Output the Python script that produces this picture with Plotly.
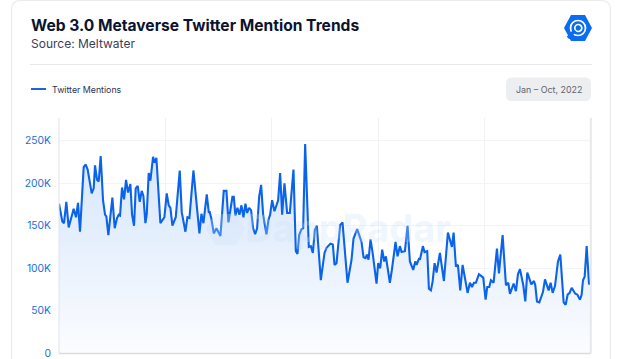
import plotly.graph_objects as go

W, H = 630, 359

period_position = [0,10,15,22,29,44,51,57,63,74,80,86,98,104,108,114,119,125,132,138,142,148,160,167,174,179,183,189,195,201,207,214,219,225,230,236,242,248,253,259,263,269,274,282,287,292,304,316,323,329,334,340,350,362,368,373,379,385,391,403,421,427,433,443,449,
452,457,464,472,484,494,502,508,520,524,529,535,541,547,553,559,564,570,576,582,588,594,600,606,612,622,628,633,639,646,657,663,669,676,684,692,703,710,715,720,727,732,738,749,755,761,767,773,785,796,802,814,821,826,832,843,850,865,877,883,894,907,913,919,923,928,934,940,952,957,963,969,975,980,992,998,1009,1015,1022,1027,1037,1045,1052,1062,1068,1072,1080,
1082,1091,1096,1104,1109,1115,1120,1126,1132,1142,1154,1166,1178,1183,1190,1196,1203,1210,1225,1232,1238,1244,1250,1259,1272,1279,1284,1290,1295,1303,1313,1319,1330,1340,1347,1352,1363,1370,1376,1382,1392,1398,1404,1416,1424,1428,1433,1440,1448,1451,1457,1468,1474,1480,1487,1496,1503,1513,1519,1525,1531,1537,1548,1554,1562,1567,1571,1576,1582,1589,1595]

twitter_mentions_k = [176,155,153,178,148,170,160,177,143,219,222,216,188,194,221,204,202,232,180,163,161,139,183,147,159,163,162,195,181,204,189,199,163,150,194,197,178,191,185,153,163,212,203,231,224,230,153,160,188,174,171,150,160,215,166,153,143,160,159,215,141,164,153,187,166,
166,158,141,147,138,191,191,154,184,184,162,171,163,174,160,176,165,171,168,147,140,147,184,198,163,140,157,163,180,167,180,212,163,200,165,165,216,120,117,139,146,147,246,125,126,118,145,150,86,118,124,129,128,104,106,151,154,83,110,135,146,131,113,112,116,110,134,119,82,106,100,122,108,114,83,98,131,114,126,119,120,150,108,98,108,104,112,
110,126,119,120,76,74,84,106,95,118,85,142,125,142,102,104,74,104,71,83,78,83,83,93,89,63,78,78,86,83,123,94,139,80,83,70,82,73,93,99,80,61,95,81,85,80,61,60,71,72,87,74,83,71,79,108,116,60,57,69,71,77,70,69,63,69,86,90,126,82,81]

y_tick_values = [0, 50, 100, 150, 200, 250]
y_tick_labels = ["0", "50K", "100K", "150K", "200K", "250K"]
x_tick_values = [0, 319, 638, 957, 1276, 1595]

title = "Web 3.0 Metaverse Twitter Mention Trends"
subtitle = "Source: Meltwater"
series_name = "Twitter Mentions"
date_label = "Jan – Oct, 2022"
watermark = "DappRadar"


def px(x):
    return x / W


def py(y):
    return 1 - y / H


fig = go.Figure()
fig.add_trace(go.Scatter(
    x=period_position, y=twitter_mentions_k, mode="lines", name=series_name,
    line=dict(color="#0a63ea", width=2.1), fill="tozeroy",
    fillgradient=dict(type="vertical", colorscale=[[0, "#fbfcff"], [0.6, "#e3eefc"], [1, "#d8e7fb"]]),
    hoverinfo="skip", showlegend=False,
))


def text(x, y, s, size, color, family="Inter", anchor="left", weight=None):
    fig.add_annotation(xref="paper", yref="paper", x=px(x), y=py(y), text=s, showarrow=False,
                       xanchor=anchor, yanchor="middle", borderpad=0,
                       font=dict(size=size, color=color, family=family, weight=weight))


text(29.5, 25, title, 15.6, "#0c1330", weight=700)
text(29.5, 43.5, subtitle, 12, "#3a415a")
text(50.5, 89, series_name, 8.8, "#2b3250")
text(548.5, 89.5, date_label, 8.9, "#5c6470", anchor="center")
text(348, 228, watermark, 38, "rgba(205,224,250,0.3)", anchor="center", weight=700)

shapes = [
    # card outline, open at the bottom
    dict(type="path", path=f"M {px(11.5)} {py(359)} L {px(11.5)} {py(10)} Q {px(11.5)} {py(0.5)} {px(21)} {py(0.5)} "
                           f"L {px(601)} {py(0.5)} Q {px(610.5)} {py(0.5)} {px(610.5)} {py(10)} L {px(610.5)} {py(359)}",
         xref="paper", yref="paper", line=dict(color="#e9ebef", width=1.2), layer="below"),
    dict(type="line", xref="paper", yref="paper", x0=px(30), x1=px(592), y0=py(64.5), y1=py(64.5),
         line=dict(color="#e6e8ec", width=1)),
    dict(type="line", xref="paper", yref="paper", x0=px(31), x1=px(46), y0=py(89), y1=py(89),
         line=dict(color="#1b63e0", width=2)),
    dict(type="path", path=f"M {px(512)} {py(77.5)} L {px(585)} {py(77.5)} Q {px(591)} {py(77.5)} {px(591)} {py(83.5)} "
                           f"L {px(591)} {py(95)} Q {px(591)} {py(101)} {px(585)} {py(101)} L {px(512)} {py(101)} "
                           f"Q {px(506)} {py(101)} {px(506)} {py(95)} L {px(506)} {py(83.5)} Q {px(506)} {py(77.5)} {px(512)} {py(77.5)} Z",
         xref="paper", yref="paper", fillcolor="#eceef0", line=dict(width=0), layer="below"),
    # logo hexagon
    dict(type="path", path=f"M {px(564)} {py(28)} L {px(571)} {py(15)} L {px(585)} {py(15)} L {px(592)} {py(28)} "
                           f"L {px(585)} {py(41)} L {px(571)} {py(41)} Z",
         xref="paper", yref="paper", fillcolor="#0a6cf0", line=dict(width=0)),
    dict(type="circle", xref="paper", yref="paper", x0=px(570.5), x1=px(585.5), y0=py(20.5), y1=py(35.5),
         line=dict(color="white", width=1.7)),
    dict(type="circle", xref="paper", yref="paper", x0=px(574.8), x1=px(581.8), y0=py(24.5), y1=py(31.5),
         line=dict(color="white", width=1.7)),
    dict(type="line", xref="paper", yref="paper", x0=px(568), x1=px(575), y0=py(38), y1=py(30.5),
         line=dict(color="#0a6cf0", width=3.5)),
    # faint watermark mark
    dict(type="path", path=f"M {px(206)} {py(229)} L {px(215)} {py(214)} L {px(236)} {py(214)} L {px(245)} {py(229)} "
                           f"L {px(236)} {py(245)} L {px(215)} {py(245)} Z",
         xref="paper", yref="paper", fillcolor="rgba(205,224,250,0.3)", line=dict(width=0)),
    # plot frame
    dict(type="line", xref="paper", yref="paper", x0=px(59), x1=px(59), y0=py(118), y1=py(353.3),
         line=dict(color="#dfe3e8", width=1)),
    dict(type="line", xref="paper", yref="paper", x0=px(59), x1=px(591), y0=py(353.5), y1=py(353.5),
         line=dict(color="#d9dbdf", width=1.5)),
    dict(type="line", xref="paper", yref="paper", x0=px(590.8), x1=px(590.8), y0=py(118), y1=py(353.3),
         line=dict(color="#e6e8ec", width=2)),
]

fig.update_layout(
    width=W, height=H, margin=dict(l=0, r=0, t=0, b=0),
    paper_bgcolor="white", plot_bgcolor="rgba(0,0,0,0)", shapes=shapes, showlegend=False,
    xaxis=dict(domain=[px(59), px(591)], range=[0, 1595], tickvals=x_tick_values, showticklabels=False,
               showgrid=True, gridcolor="#eff1f4", gridwidth=1, zeroline=False, ticks="", automargin=False),
    yaxis=dict(domain=[py(353.3), py(118)], range=[0, 276.7], tickvals=y_tick_values, ticktext=y_tick_labels,
               showgrid=True, gridcolor="#f2f4f7", gridwidth=1, zeroline=False, ticks="", automargin=False,
               tickfont=dict(size=10.3, color="#1a6ed8", family="Inter"), ticklabelstandoff=7),
)

fig.write_html("out.html", config=dict(displayModeBar=False),
               post_script="document.body.style.margin='0';document.body.style.overflow='hidden';")
